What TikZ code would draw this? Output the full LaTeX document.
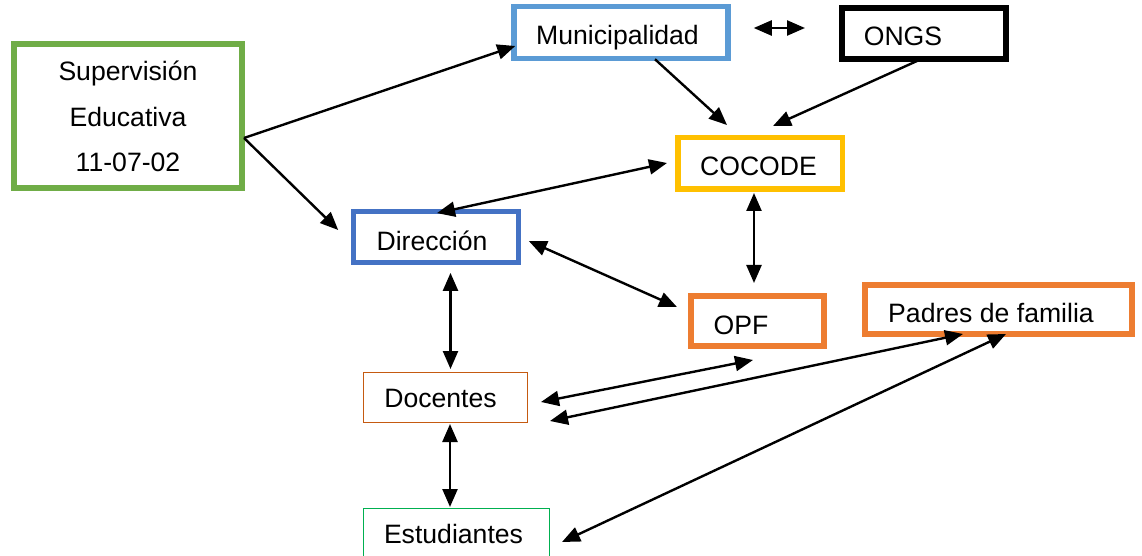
\documentclass[tikz,border=0pt]{standalone}
\usepackage{fontspec}
\setmainfont{Liberation Sans}
\usetikzlibrary{arrows.meta}

\definecolor{supgreen}{HTML}{70AD47}
\definecolor{muniblue}{HTML}{5B9BD5}
\definecolor{cocodegold}{HTML}{FFC000}
\definecolor{dirblue}{HTML}{4472C4}
\definecolor{opforange}{HTML}{ED7D31}
\definecolor{docbrown}{HTML}{C55A11}
\definecolor{estgreen}{HTML}{00B050}

\begin{document}
\begin{tikzpicture}[x=0.5pt,y=-0.5pt,
  font=\fontsize{13.3}{22.75}\selectfont,
  box/.style={draw,rectangle,inner sep=0pt},
  txt/.style={inner sep=0pt,text height=9.5pt,text depth=2.8pt},
  tip/.tip={Triangle[length=9pt,width=7.5pt]},
  oneway/.style={line width=1.2pt,-tip},
  twoway/.style={line width=1.2pt,tip-tip}]

\useasboundingbox (0,0) rectangle (1142,556);
\clip (0,0) rectangle (1142,556);

% Boxes
\node[box,draw=supgreen,line width=3pt,minimum width=114pt,minimum height=72pt,
  label={[align=center,inner sep=0pt]center:{Supervisión\\Educativa\\11-07-02}}]
  (sup) at (128,116.5) {};
\node[box,draw=muniblue,line width=2.75pt,minimum width=107pt,minimum height=26pt,
  label={[txt,xshift=-1.75pt,yshift=-2.65pt]center:Municipalidad}]
  (muni) at (621,32.5) {};
\node[box,draw=black,line width=3pt,minimum width=82pt,minimum height=25.5pt,
  label={[txt,xshift=-10.5pt,yshift=-2.65pt]center:ONGS}]
  (ongs) at (924,33.5) {};
\node[box,draw=cocodegold,line width=2.75pt,minimum width=82.25pt,minimum height=25.75pt,
  label={[txt,xshift=-0.75pt,yshift=-2.9pt]center:COCODE}]
  (cocode) at (760,163.5) {};
\node[box,draw=dirblue,line width=2.6pt,minimum width=82.2pt,minimum height=25.3pt,
  label={[txt,xshift=-2pt,yshift=-3.2pt]center:Dirección}]
  (dir) at (436,237) {};
\node[box,draw=opforange,line width=3pt,minimum width=66.5pt,minimum height=25pt,
  label={[txt,xshift=-8.25pt,yshift=-3.2pt]center:OPF}]
  (opf) at (757.5,321) {};
\node[box,draw=opforange,line width=3pt,minimum width=133.5pt,minimum height=24.5pt,
  label={[txt,xshift=-3.75pt,yshift=-3.2pt]center:Padres de familia}]
  (padres) at (998.5,309.5) {};
\node[box,draw=docbrown,line width=0.7pt,minimum width=81.8pt,minimum height=24.8pt,
  label={[txt,xshift=-2.5pt,yshift=-1.9pt]center:Docentes}]
  (doc) at (445.5,397.5) {};
\node[box,draw=estgreen,line width=0.7pt,minimum width=92.8pt,minimum height=24.8pt,
  label={[txt,xshift=-1.5pt,yshift=-1.4pt]center:Estudiantes}]
  (est) at (456.5,533.5) {};

% One-way links
\draw[oneway] ([shift={(-1,21.5)}]sup.east) -- ([shift={(4,13.5)}]muni.west);
\draw[oneway] ([shift={(-1,21.5)}]sup.east) -- ([shift={(-13,-7)}]dir.west);
\draw[oneway] ([shift={(34,-2)}]muni.south) -- ([shift={(-33,-10)}]cocode.north);
\draw[oneway] ([shift={(-7,-1)}]ongs.south) -- ([shift={(13,-9)}]cocode.north);

% Two-way links
\draw[twoway] ([shift={(23,-4.5)}]muni.east) -- ([shift={(-34,-5.5)}]ongs.west);
\draw[twoway] ([shift={(1,4)}]dir.north) -- ([shift={(-8,-0.5)}]cocode.west);
\draw[twoway] ([shift={(-6,1)}]cocode.south) -- ([shift={(-3.5,-10)}]opf.north);
\draw[twoway] ([shift={(8,4)}]dir.east) -- ([shift={(-11,-14)}]opf.west);
\draw[twoway] ([shift={(14.5,8)}]dir.south) -- ([shift={(5,-3)}]doc.north);
\draw[twoway] ([shift={(4.5,1)}]doc.south) -- ([shift={(-6.5,-1)}]est.north);
\draw[twoway] ([shift={(13,4.5)}]doc.east) -- ([shift={(-4.5,11)}]opf.south);
\draw[twoway] ([shift={(22,23.5)}]doc.east) -- ([shift={(-35.5,-3)}]padres.south);
\draw[twoway] ([shift={(12,8.5)}]est.east) -- ([shift={(7.5,-3)}]padres.south);

\end{tikzpicture}
\end{document}
